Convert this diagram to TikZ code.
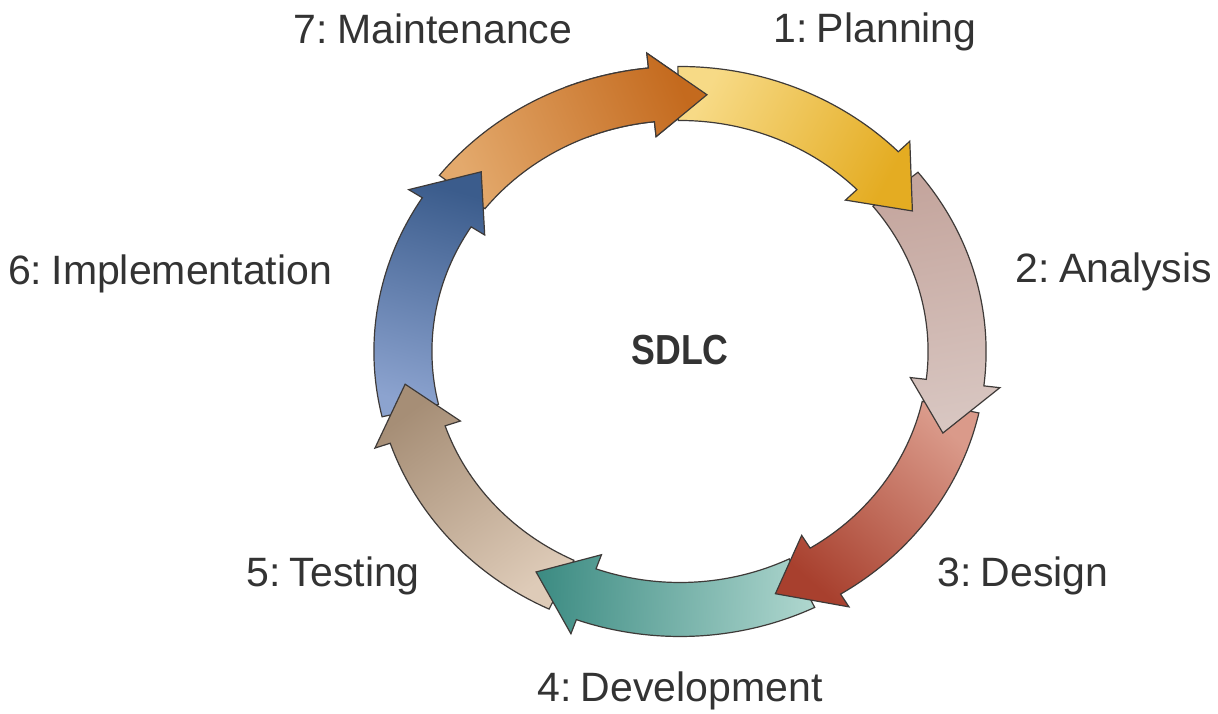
\documentclass[tikz,border=0pt]{standalone}
\usepackage{fontspec}
\setmainfont{Liberation Sans}
\definecolor{txt}{HTML}{333333}
\definecolor{edge}{HTML}{3E3A38}
\definecolor{c1a}{HTML}{F7DA86}\definecolor{c1b}{HTML}{E4AC22}
\definecolor{c2a}{HTML}{C4A59D}\definecolor{c2b}{HTML}{D8C6C1}
\definecolor{c3a}{HTML}{DA9A8A}\definecolor{c3b}{HTML}{A8402E}
\definecolor{c4a}{HTML}{AED6CE}\definecolor{c4b}{HTML}{3D8C83}
\definecolor{c5a}{HTML}{DECBB8}\definecolor{c5b}{HTML}{A68E76}
\definecolor{c6a}{HTML}{8CA3CF}\definecolor{c6b}{HTML}{3B5C8C}
\definecolor{c7a}{HTML}{E3A96C}\definecolor{c7b}{HTML}{C46A1E}
\newcommand\csp{\hspace{0.23em}}
\tikzset{
  band/.style={draw=edge, line width=1.2pt, line join=miter},
  lbl/.style={text=txt, font=\fontsize{41}{48}\selectfont, anchor=base, inner sep=0pt},
}
\newcommand\sdlcArrow[3]{%
  \pgfmathsetmacro\Pa{33-51.43*(#1-1)}%
  \pgfmathsetmacro\Ba{\Pa+11.5}%
  \pgfmathsetmacro\Ta{\Pa+57.4}%
  \pgfmathsetmacro\Sa{(\Ta+\Pa)/2}%
  \shadedraw[band, top color=#2, bottom color=#3, shading angle=\Sa]
    (\Ta:285) arc[start angle=\Ta, end angle=\Ba, radius=285]
    -- (\Ba:300) -- (\Pa:258) -- (\Ba:216) -- (\Ba:231)
    arc[start angle=\Ba, end angle=\Ta, radius=231] -- cycle;
}
\begin{document}
\begin{tikzpicture}[x=1pt,y=1pt]
\useasboundingbox (0,0) rectangle (1218,714);
\fill[white] (0,0) rectangle (1218,714);
\begin{scope}[shift={(680,362.5)}, xscale=1.074]
  \sdlcArrow{7}{c7a}{c7b}
  \sdlcArrow{6}{c6a}{c6b}
  \sdlcArrow{5}{c5a}{c5b}
  \sdlcArrow{4}{c4a}{c4b}
  \sdlcArrow{3}{c3a}{c3b}
  \sdlcArrow{2}{c2a}{c2b}
  \sdlcArrow{1}{c1a}{c1b}
  \begin{scope}
    \clip (0,0) -- (70:400) -- (112:400) -- cycle;
    \sdlcArrow{7}{c7a}{c7b}
  \end{scope}
\end{scope}
\node[lbl] (maint) at (433,670) {7:\csp Maintenance};
\node[lbl] (plan) at (875,671) {1:\csp Planning};
\node[lbl] (impl) at (170,429) {6:\csp Implementation};
\node[lbl] (anal) at (1114,431) {2:\csp Analysis};
\node[lbl] (test) at (333,127) {5:\csp Testing};
\node[lbl] (design) at (1023,127) {3:\csp Design};
\node[lbl] (dev) at (680,12) {4:\csp Development};
\node[lbl, font=\fontsize{42}{48}\selectfont\bfseries] (sdlc) at (680,349) {\scalebox{0.85}[1]{SDLC}};
\end{tikzpicture}
\end{document}
